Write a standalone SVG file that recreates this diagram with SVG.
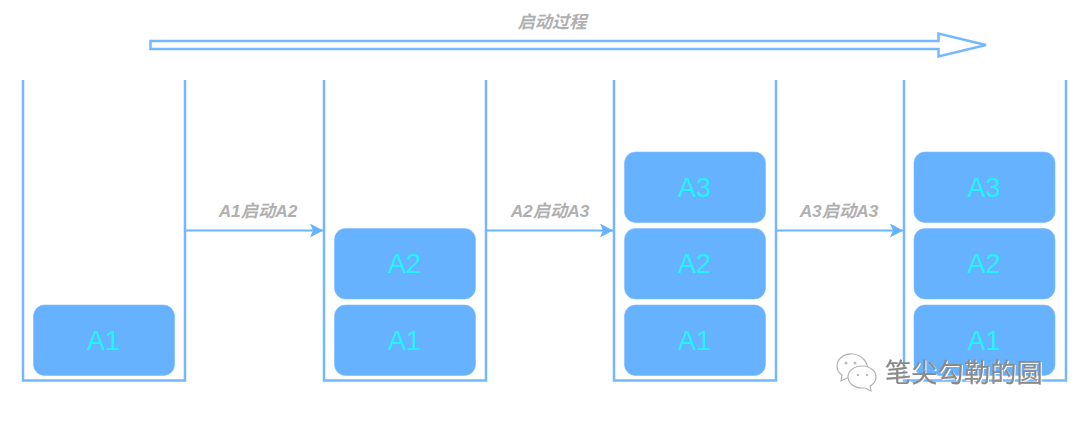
<svg xmlns="http://www.w3.org/2000/svg" width="1080" height="421" viewBox="0 0 1080 421">
<style>
.stack{fill:none;stroke:#74b9ff;stroke-width:2.5}
.block{fill:#66b2ff;stroke:#7dbdff;stroke-width:.6}
.bt{font-family:"Liberation Sans",Arial,sans-serif;font-size:27px;fill:#24f2ff;text-anchor:middle}
.lb{font-family:"Liberation Sans","Noto Sans CJK SC",sans-serif;font-size:17.3px;font-weight:bold;font-style:italic;fill:#b0b0b0;text-anchor:middle}
.conn{fill:none;stroke:#6cb5ff;stroke-width:2.2}
.wm{font-family:"Noto Sans CJK SC",sans-serif;font-size:26.3px;fill:#8a8a8a;stroke:#8a8a8a;stroke-width:.2;filter:drop-shadow(1px 1px 0 #fff)}
.ic{fill:#fff;stroke:#b4b4b4;stroke-width:1.2}
</style>
<defs>
<marker id="arr" markerUnits="userSpaceOnUse" markerWidth="14" markerHeight="14" refX="13" refY="7" orient="auto"><path d="M0 0L13 7L0 14L3 7Z" fill="#66b2ff"/></marker>
</defs>
<g id="connectors">
<path class="conn" d="M185 230.500H323" marker-end="url(#arr)"/>
<path class="conn" d="M486 230.500H613" marker-end="url(#arr)"/>
<path class="conn" d="M776 230.500H903" marker-end="url(#arr)"/>
</g>
<g id="process-arrow">
<path d="M150.500 41H938.500V33.500L986 45L938.500 56.500V49H150.500Z" fill="#fff" stroke="#74b9ff" stroke-width="2.500"/>
<text class="lb" x="552" y="27.500">启动过程</text>
</g>
<g id="label-a1a2"><text class="lb" x="258" y="216.500">A1启动A2</text></g>
<g id="label-a2a3"><text class="lb" x="550" y="216.500">A2启动A3</text></g>
<g id="label-a3a3"><text class="lb" x="839" y="216.500">A3启动A3</text></g>
<g id="stack1">
<path class="stack" d="M23 80V380.500H185V80"/>
<rect class="block" x="33.500" y="305" width="141" height="70.500" rx="11"/><text class="bt" x="103.500" y="350">A1</text>
</g>
<g id="stack2">
<path class="stack" d="M324 80V380.500H486V80"/>
<rect class="block" x="334.500" y="305" width="141" height="70.500" rx="11"/><text class="bt" x="404.500" y="350">A1</text>
<rect class="block" x="334.500" y="228.500" width="141" height="70.500" rx="11"/><text class="bt" x="404.500" y="273">A2</text>
</g>
<g id="stack3">
<path class="stack" d="M614 80V380.500H776V80"/>
<rect class="block" x="624.500" y="305" width="141" height="70.500" rx="11"/><text class="bt" x="694.500" y="350">A1</text>
<rect class="block" x="624.500" y="228.500" width="141" height="70.500" rx="11"/><text class="bt" x="694.500" y="273">A2</text>
<rect class="block" x="624.500" y="152" width="141" height="70.500" rx="11"/><text class="bt" x="694.500" y="197">A3</text>
</g>
<g id="stack4">
<path class="stack" d="M904 80V380.500H1066V80"/>
<rect class="block" x="914" y="305" width="141" height="70.500" rx="11"/><text class="bt" x="984" y="350">A1</text>
<rect class="block" x="914" y="228.500" width="141" height="70.500" rx="11"/><text class="bt" x="984" y="273">A2</text>
<rect class="block" x="914" y="152" width="141" height="70.500" rx="11"/><text class="bt" x="984" y="197">A3</text>
</g>
<g id="watermark">
<path class="ic" d="M853 354c-9-1-16 5-16 12 0 4 2 7 5 9l-1 6 6-3 5 0c6 1 12-3 16-7 0-9-6-16-15-17Z"/>
<path class="ic" d="M862 366c-8 0-14 5-14 11 0 6 6 11 14 11l3 0 6 3-1-5c4-2 6-5 6-9 0-6-6-11-14-11Z"/>
<circle cx="846" cy="363" r="1.500" fill="#bbb"/><circle cx="855" cy="363" r="1.500" fill="#bbb"/>
<circle cx="858" cy="375" r="1.200" fill="#bbb"/><circle cx="867" cy="375" r="1.200" fill="#bbb"/>
<text class="wm" x="885" y="381.500">笔尖勾勒的圆</text>
</g>
</svg>
